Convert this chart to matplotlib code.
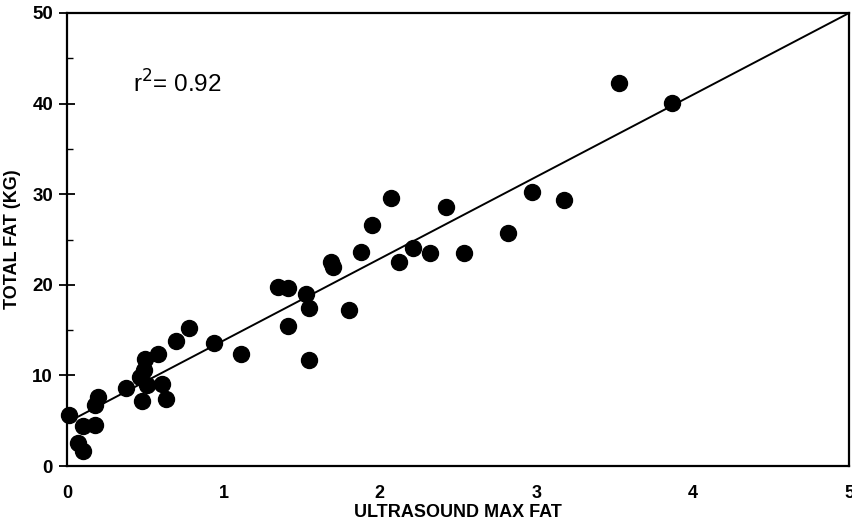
import matplotlib
matplotlib.use('Agg')
import matplotlib.pyplot as plt
import numpy as np

# ultrasound max fat vs total fat (kg)
us_max_fat = [0.01, 0.07, 0.10, 0.10, 0.18, 0.20, 0.18, 0.38, 0.47, 0.49,
              0.50, 0.48, 0.51, 0.58, 0.61, 0.63, 0.70, 0.78, 0.94, 1.11,
              1.35, 1.41, 1.41, 1.53, 1.55, 1.55, 1.69, 1.70, 1.80, 1.88,
              1.95, 2.07, 2.12, 2.21, 2.32, 2.42, 2.54, 2.82, 2.97, 3.18,
              3.53, 3.87]
total_fat = [5.6, 2.5, 1.7, 4.4, 4.5, 7.6, 6.7, 8.6, 9.8, 10.6,
             11.8, 7.2, 8.9, 12.4, 9.0, 7.4, 13.8, 15.2, 13.6, 12.4,
             19.8, 19.6, 15.4, 19.0, 17.4, 11.7, 22.5, 22.0, 17.2, 23.6,
             26.6, 29.6, 22.5, 24.1, 23.5, 28.6, 23.5, 25.7, 30.2, 29.4,
             42.3, 40.1]

# regression line
fit_intercept = 4.8
fit_slope = 9.04
r_squared = 0.92

x_ticks = [0, 1, 2, 3, 4, 5]
y_ticks = [0, 10, 20, 30, 40, 50]

plt.rcParams['font.family'] = ['Liberation Sans', 'DejaVu Sans']

fig = plt.figure(figsize=(8.52, 5.28), dpi=100)
ax = fig.add_axes([0.0786, 0.1174, 0.918, 0.858])

ax.plot(us_max_fat, total_fat, 'o', color='black', markersize=11.5, clip_on=False, zorder=3)
line_x = np.array([0, 5])
ax.plot(line_x, fit_intercept + fit_slope * line_x, color='black', linewidth=1.4)

ax.set_xlim(0, 5)
ax.set_ylim(0, 50)
ax.set_xticks(x_ticks)
ax.set_yticks(y_ticks)
ax.set_yticks([5, 15, 25, 35, 45], minor=True)
ax.tick_params(axis='y', which='major', direction='inout', length=12, width=1.3, pad=4, labelsize=13.5)
ax.tick_params(axis='y', which='minor', direction='in', length=4, width=1)
ax.tick_params(axis='x', which='major', direction='in', length=0, pad=14, labelsize=13)
for lbl in ax.get_xticklabels() + ax.get_yticklabels():
    lbl.set_fontweight('bold')

for sp in ax.spines.values():
    sp.set_linewidth(1.6)

ax.set_xlabel("ULTRASOUND MAX FAT", fontsize=13, fontweight='bold', labelpad=1)
ax.set_ylabel("TOTAL FAT (KG)", fontsize=13, fontweight='bold', labelpad=8)

ax.text(0.42, 42.2, "r$^{2}$= " + str(r_squared), fontsize=17.5, va='center', ha='left')

plt.savefig("out.png", dpi=100)
